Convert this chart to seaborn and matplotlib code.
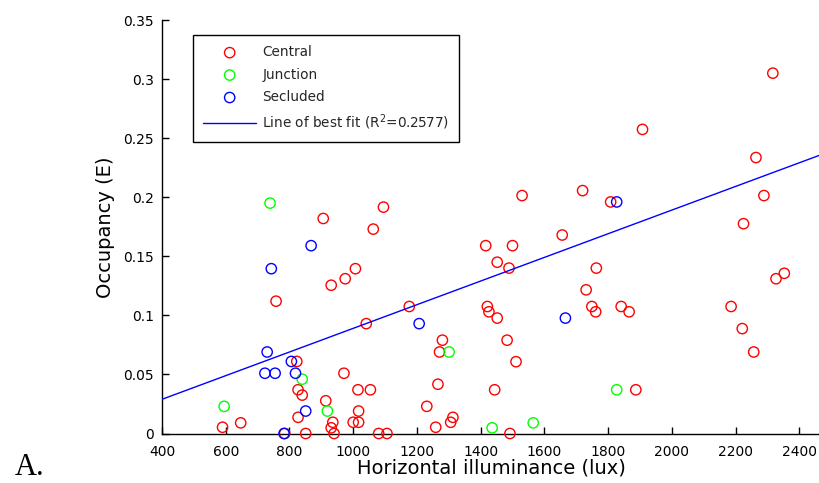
import matplotlib
matplotlib.use("Agg")
import matplotlib.pyplot as plt
import seaborn as sns
import numpy as np
import pandas as pd

# ---- data ----
central_x = [590, 647, 758, 785, 823, 827, 840, 827, 851, 914, 931, 936, 940, 971,
             1000, 1017, 1017, 1015, 1054, 1041, 1080, 1106, 1176, 1231, 1259, 1266,
             1271, 1280, 1306, 1313, 1421, 1426, 1444, 1452, 1483, 1511, 1492, 906,
             1095, 1063, 1007, 975, 931, 1416, 2264, 1530, 1720, 1808, 2289, 2225,
             1656, 1500, 1452, 1489, 1763, 1731, 2327, 2353, 2317, 1908, 1749, 1761,
             1841, 1866, 1887, 2186, 2221, 2257]
central_y = [0.0053, 0.009, 0.112, 0.0, 0.061, 0.037, 0.0325, 0.0137, 0.0, 0.0277,
             0.0048, 0.0095, 0.0, 0.051, 0.0095, 0.0095, 0.019, 0.037, 0.037, 0.093,
             0.0, 0.0, 0.1075, 0.023, 0.0053, 0.0417, 0.069, 0.079, 0.0095, 0.0137,
             0.1075, 0.103, 0.037, 0.0977, 0.079, 0.0608, 0.0, 0.182, 0.1916, 0.173,
             0.1395, 0.131, 0.1255, 0.159, 0.2336, 0.2014, 0.2056, 0.196, 0.2014,
             0.1776, 0.168, 0.159, 0.145, 0.14, 0.14, 0.1216, 0.131, 0.1356, 0.305,
             0.2574, 0.1075, 0.103, 0.1075, 0.103, 0.037, 0.1075, 0.0888, 0.069]
junction_x = [595, 739, 840, 919, 1301, 1436, 1565, 1827]
junction_y = [0.023, 0.195, 0.046, 0.019, 0.069, 0.0048, 0.009, 0.037]
secluded_x = [723, 730, 743, 755, 783, 806, 819, 851, 868, 1207, 1666, 1827]
secluded_y = [0.051, 0.069, 0.1395, 0.051, 0.0, 0.061, 0.051, 0.019, 0.159, 0.093,
              0.0977, 0.196]
fit_slope = 1.001e-4
fit_intercept = -0.0111
fit_label = "Line of best fit (R$^2$=0.2577)"
x_ticks = [400, 600, 800, 1000, 1200, 1400, 1600, 1800, 2000, 2200, 2400]
y_ticks = [0, 0.05, 0.1, 0.15, 0.2, 0.25, 0.3, 0.35]
y_ticklabels = ["0", "0.05", "0.1", "0.15", "0.2", "0.25", "0.3", "0.35"]

sns.set_theme(style="ticks")
plt.rcParams["font.family"] = ["DejaVu Sans"]
plt.rcParams["mathtext.fontset"] = "dejavusans"

df = pd.concat([
    pd.DataFrame({"x": central_x, "y": central_y, "group": "Central"}),
    pd.DataFrame({"x": junction_x, "y": junction_y, "group": "Junction"}),
    pd.DataFrame({"x": secluded_x, "y": secluded_y, "group": "Secluded"}),
])
colors = {"Central": "#FF0000", "Junction": "#00FF00", "Secluded": "#0000FF"}

fig = plt.figure(figsize=(8.2, 4.83), dpi=100)
ax = fig.add_axes([162 / 820, 49.5 / 483, (820 - 162) / 820, 413.5 / 483])

xmax = 2465
for g in ["Central", "Junction", "Secluded"]:
    sub = df[df["group"] == g]
    sns.scatterplot(data=sub, x="x", y="y", ax=ax, marker="o", s=55,
                    facecolor="none", edgecolor=colors[g], linewidth=1.0,
                    label=g, clip_on=False, zorder=3)

line_df = pd.DataFrame({"x": [400, xmax]})
line_df["y"] = fit_intercept + fit_slope * line_df["x"]
sns.lineplot(data=line_df, x="x", y="y", ax=ax, color="#0000FF", linewidth=1.0,
             label=fit_label, zorder=4)

ax.set_xlim(400, xmax)
ax.set_ylim(0, 0.35)
ax.set_xticks(x_ticks)
ax.set_xticklabels([str(t) for t in x_ticks])
ax.set_yticks(y_ticks)
ax.set_yticklabels(y_ticklabels)
ax.tick_params(direction="in", length=5, width=1, labelsize=10, colors="black")
ax.tick_params(axis="x", pad=8)
ax.tick_params(axis="y", pad=6)
for s in ["top", "right"]:
    ax.spines[s].set_visible(False)
for s in ["left", "bottom"]:
    ax.spines[s].set_color("black")
    ax.spines[s].set_linewidth(1.0)

ax.set_xlabel("Horizontal illuminance (lux)", fontsize=14, color="black", labelpad=0)
ax.set_ylabel("Occupancy (E)", fontsize=14, color="black", labelpad=6)

leg = ax.legend(loc="upper left", bbox_to_anchor=(0.047, 0.9637), borderaxespad=0,
                fontsize=9.8, frameon=True, fancybox=False, edgecolor="black",
                framealpha=1, handlelength=3.9, handletextpad=0.45,
                labelspacing=0.62, borderpad=0.75)
leg.get_frame().set_linewidth(1.0)

fig.text(15 / 820, 1 - 475 / 483, "A.", fontsize=22, family="Liberation Serif",
         color="black", ha="left", va="baseline")

fig.savefig("out.png", dpi=100)
